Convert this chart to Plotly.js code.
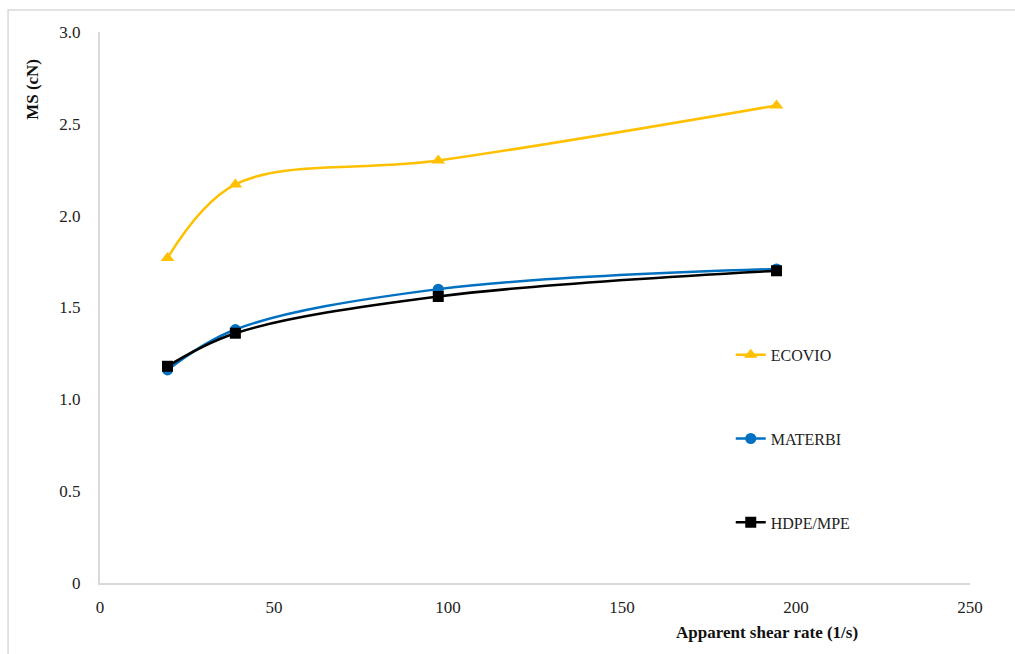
<!DOCTYPE html>
<html>
<head>
<meta charset="utf-8">
<script src="https://cdn.plot.ly/plotly-3.0.1.min.js"></script>
<style>html,body{margin:0;padding:0;background:#fff;}#chart{width:1015px;height:654px;}</style>
</head>
<body>
<div id="chart"></div>
<script>
const shearRate = [19.4, 38.9, 97.2, 194.4];
const ecovio = [1.77, 2.17, 2.30, 2.60];
const materbi = [1.16, 1.38, 1.60, 1.71];
const hdpe = [1.18, 1.36, 1.56, 1.70];
const seriesNames = ['ECOVIO', 'MATERBI', 'HDPE/MPE'];
const yTickVals = [0, 0.5, 1.0, 1.5, 2.0, 2.5, 3.0];
const yTickText = ['0', '0.5', '1.0', '1.5', '2.0', '2.5', '3.0'];
const xTickVals = [0, 50, 100, 150, 200, 250];

const serif = 'Liberation Serif';

const traces = [
  {x: shearRate, y: ecovio, name: seriesNames[0], legendgroup: 'a', mode: 'lines+markers',
   line: {color: '#FFC000', width: 2.5, shape: 'spline', smoothing: 1},
   marker: {symbol: 'triangle-up', size: 12, color: '#FFC000'}},
  {x: shearRate, y: materbi, name: seriesNames[1], legendgroup: 'b', mode: 'lines+markers',
   line: {color: '#0070C0', width: 2.5, shape: 'spline', smoothing: 1},
   marker: {symbol: 'circle', size: 11, color: '#0070C0'}},
  {x: shearRate, y: hdpe, name: seriesNames[2], legendgroup: 'c', mode: 'lines+markers',
   line: {color: '#000000', width: 2.5, shape: 'spline', smoothing: 1},
   marker: {symbol: 'square', size: 11, color: '#000000'}}
];

const layout = {
  width: 1015, height: 654,
  margin: {l: 100, r: 45, t: 32, b: 71},
  paper_bgcolor: '#fff', plot_bgcolor: '#fff',
  font: {family: serif, size: 17, color: '#222'},
  showlegend: true,
  legend: {x: 0.725, y: 0.445, xanchor: 'left', yanchor: 'top', traceorder: 'grouped',
           tracegroupgap: 60, font: {family: serif, size: 16, color: '#222'},
           bgcolor: 'rgba(0,0,0,0)', itemwidth: 30},
  xaxis: {range: [0, 250], tickvals: xTickVals, showgrid: false, zeroline: false,
          showline: true, linecolor: '#d9d9d9', linewidth: 2, ticks: '',
          ticklabelstandoff: 8, tickfont: {family: serif, size: 17, color: '#222'}, fixedrange: true},
  yaxis: {range: [0, 3.0], tickvals: yTickVals, ticktext: yTickText, showgrid: false, zeroline: false,
          showline: true, linecolor: '#d9d9d9', linewidth: 2, ticks: '',
          ticklabelstandoff: 14, tickfont: {family: serif, size: 17, color: '#222'}, fixedrange: true},
  annotations: [
    {text: '<b>MS (cN)</b>', xref: 'paper', yref: 'paper', x: -0.077, y: 0.895, textangle: -90,
     xanchor: 'center', yanchor: 'middle',
     showarrow: false, font: {family: serif, size: 17, color: '#111'}},
    {text: '<b>Apparent shear rate (1/s)</b>', xref: 'paper', yref: 'paper', x: 0.767, y: -0.089,
     xanchor: 'center', yanchor: 'middle',
     showarrow: false, font: {family: serif, size: 17, color: '#111'}}
  ],
  shapes: [
    {type: 'rect', xref: 'paper', yref: 'paper', x0: -0.1057, x1: 1.1, y0: -0.2, y1: 1.04,
     line: {color: '#d9d9d9', width: 1.5}, fillcolor: 'rgba(0,0,0,0)', layer: 'below'}
  ]
};

Plotly.newPlot('chart', traces, layout, {displayModeBar: false, staticPlot: true});
</script>
</body>
</html>
